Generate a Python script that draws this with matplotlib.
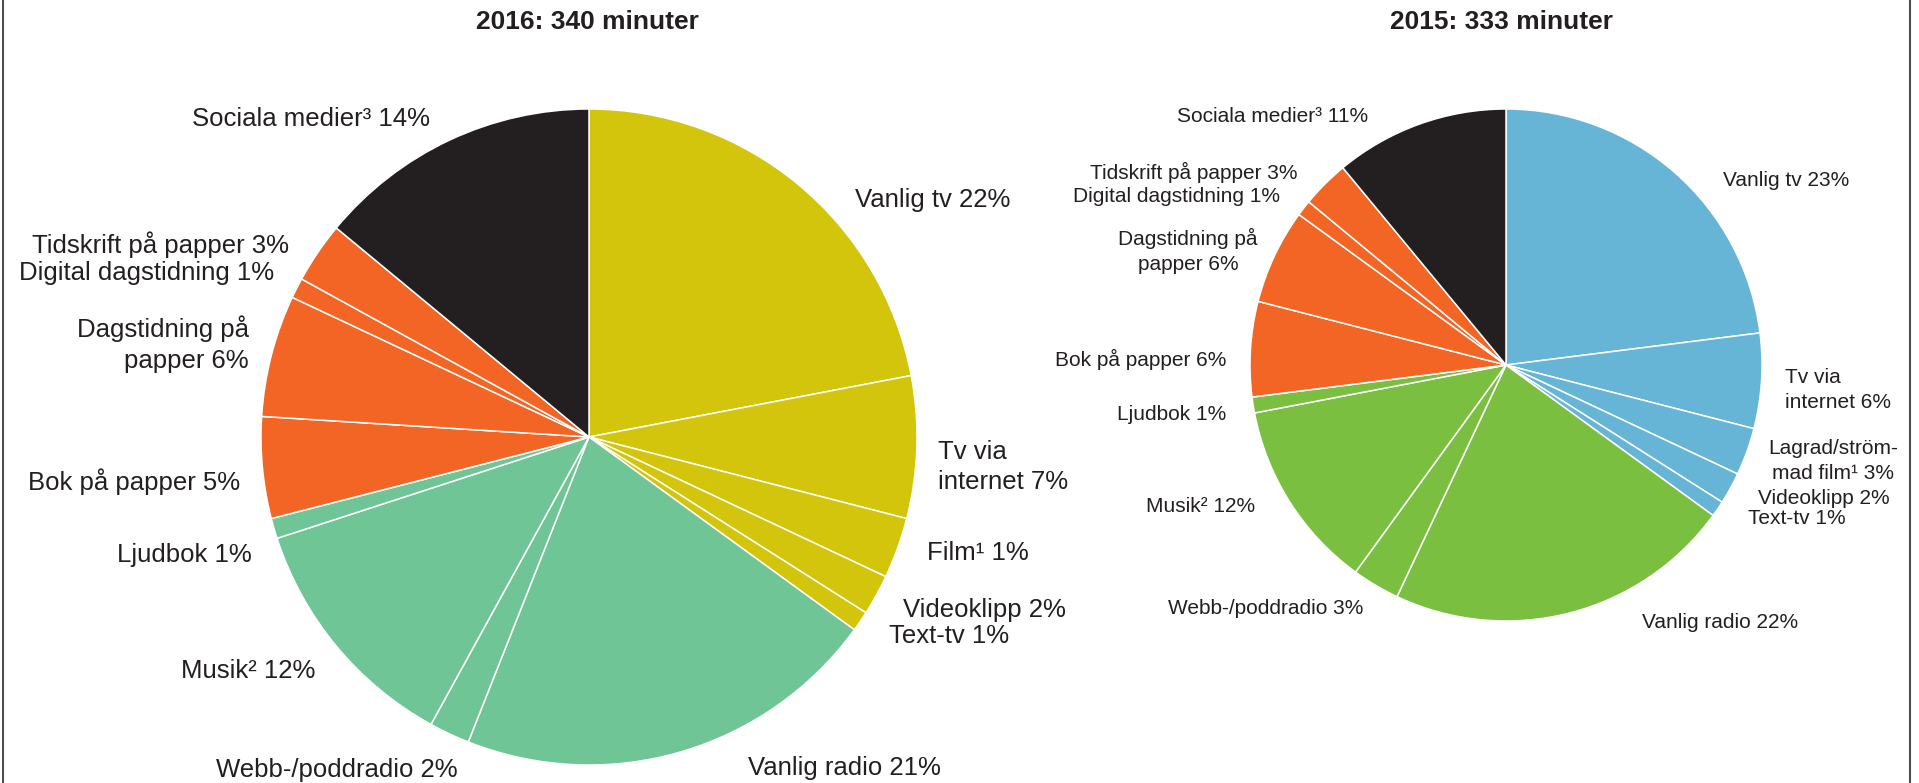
import matplotlib.pyplot as plt
from matplotlib.lines import Line2D

W, H = 1919, 783

# 2016 (340 minuter) - wedge shares in percent, clockwise from the top
labels_2016 = ["Vanlig tv 22%", "Tv via\ninternet 7%", "Film¹ 1%", "Videoklipp 2%",
               "Text-tv 1%", "Vanlig radio 21%", "Webb-/poddradio 2%", "Musik² 12%",
               "Ljudbok 1%", "Bok på papper 5%", "Dagstidning på\npapper 6%",
               "Digital dagstidning 1%", "Tidskrift på papper 3%", "Sociala medier³ 14%"]
values_2016 = [22, 7, 3, 2, 1, 21, 2, 12, 1, 5, 6, 1, 3, 14]

# 2015 (333 minuter)
labels_2015 = ["Vanlig tv 23%", "Tv via\ninternet 6%", "Lagrad/ström-\nmad film¹ 3%",
               "Videoklipp 2%", "Text-tv 1%", "Vanlig radio 22%", "Webb-/poddradio 3%",
               "Musik² 12%", "Ljudbok 1%", "Bok på papper 6%", "Dagstidning på\npapper 6%",
               "Digital dagstidning 1%", "Tidskrift på papper 3%", "Sociala medier³ 11%"]
values_2015 = [23, 6, 3, 2, 1, 22, 3, 12, 1, 6, 6, 1, 3, 11]

groups = ["tv"] * 5 + ["radio"] * 4 + ["print"] * 4 + ["social"]
colors_2016 = {"tv": "#d3c40c", "radio": "#6fc596", "print": "#f26524", "social": "#231f20"}
colors_2015 = {"tv": "#67b5d6", "radio": "#7bbf41", "print": "#f26524", "social": "#231f20"}

# label anchors in pixels (x, y from top, ha)
pos_2016 = [(855, 200, "left"), (938, 467, "left"), (927, 553, "left"), (903, 610, "left"),
            (889, 636, "left"), (748, 768, "left"), (458, 770, "right"), (315, 671, "right"),
            (252, 555, "right"), (240, 482, "right"), (249, 344, "right"),
            (274, 273, "right"), (289, 245, "right"), (430, 119, "right")]
pos_2015 = [(1723, 180, "left"), (1785, 390, "left"), (1833, 461, "center"),
            (1758, 499, "left"), (1748, 518, "left"), (1642, 623, "left"),
            (1363, 608, "right"), (1255, 507, "right"), (1226, 415, "right"),
            (1226, 359, "right"), (1188, 251, "center"), (1280, 196, "right"),
            (1298, 172, "right"), (1368, 116, "right")]

plt.rcParams['font.family'] = ['Liberation Sans', 'DejaVu Sans']

fig = plt.figure(figsize=(W / 100, H / 100), dpi=100)
ax = fig.add_axes([0, 0, 1, 1])

def draw_pie(values, colors, center, radius, labels, pos, size, title, title_x):
    ax.pie(values, colors=[colors[g] for g in groups], startangle=90, counterclock=False,
           center=(center[0], H - center[1]), radius=radius, frame=True,
           wedgeprops=dict(edgecolor="white", linewidth=1.1))
    for lab, (x, y, ha) in zip(labels, pos):
        ax.text(x, H - y, lab, ha=ha, va="center", fontsize=size, color="#231f20",
                multialignment=ha, linespacing=1.35)
    ax.text(title_x, H - 22, title, ha="center", va="center", fontsize=19,
            fontweight="bold", color="#231f20")

draw_pie(values_2016, colors_2016, (589, 437), 328, labels_2016, pos_2016, 18.5,
         "2016: 340 minuter", 587)
draw_pie(values_2015, colors_2015, (1506, 365), 256, labels_2015, pos_2015, 15,
         "2015: 333 minuter", 1501)

ax.set_xlim(0, W)
ax.set_ylim(0, H)
ax.set_aspect('equal')
ax.axis('off')

# frame lines left and right
for xf in (3, 1910):
    ax.add_line(Line2D([xf, xf], [0, H], color="#4d4d4d", linewidth=1.5))

fig.savefig("out.png", dpi=100)
